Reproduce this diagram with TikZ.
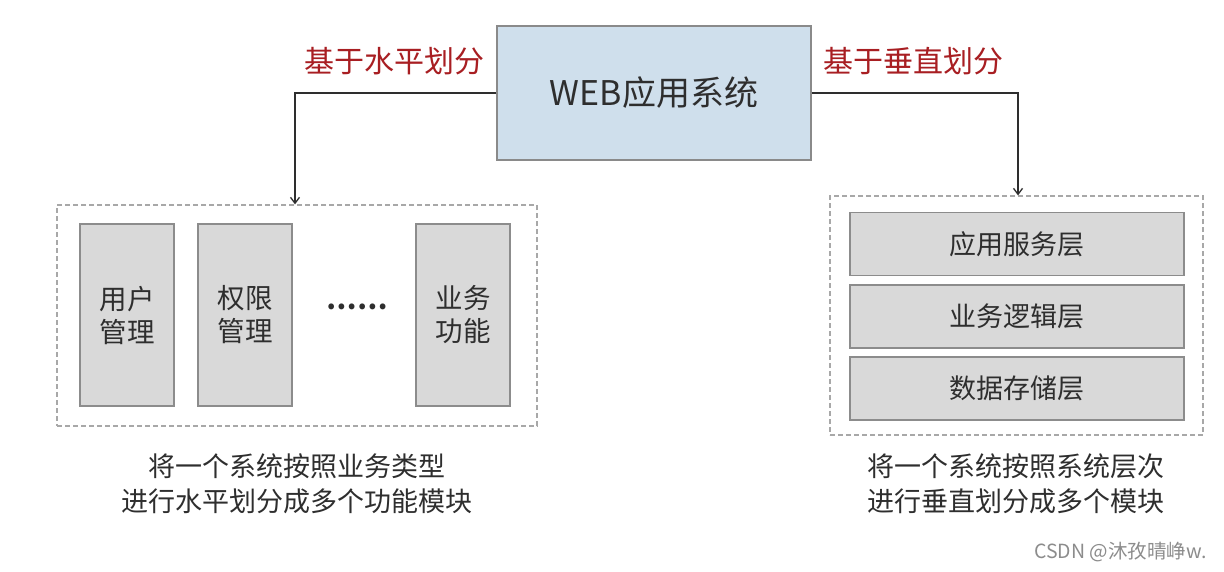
\documentclass[tikz,border=0pt]{standalone}
\usepackage{fontspec}
\newfontfamily\cjk{Noto Sans CJK SC}
\usetikzlibrary{arrows.meta}
\definecolor{webfill}{HTML}{CFDFEC}
\definecolor{webline}{HTML}{8A8A8A}
\definecolor{boxfill}{HTML}{D9D9D9}
\definecolor{boxline}{HTML}{8C8C8C}
\definecolor{dashline}{HTML}{A8A8A8}
\definecolor{txt}{HTML}{2E2E2E}
\definecolor{lblred}{HTML}{A81E22}
\tikzset{
  px/.style={x=1pt,y=-1pt},
  webbox/.style={draw=webline,fill=webfill,line width=1.2pt,minimum width=314pt,minimum height=134pt,inner sep=0pt,text=txt,font=\cjk\fontsize{34}{38}\selectfont},
  vbox/.style={draw=boxline,fill=boxfill,line width=1.2pt,minimum width=94pt,minimum height=182pt,inner sep=0pt,text=txt,align=center,font=\cjk\fontsize{27.5}{33}\selectfont},
  hbox/.style={draw=boxline,fill=boxfill,line width=1.2pt,minimum width=334pt,minimum height=63pt,inner sep=0pt,text=txt,font=\cjk\fontsize{27}{30}\selectfont},
  group/.style={draw=dashline,dash pattern=on 5pt off 3pt,line width=1.2pt,inner sep=0pt},
  redlbl/.style={text=lblred,font=\cjk\fontsize{30}{34}\selectfont},
  caption/.style={text=txt,align=center,font=\cjk\fontsize{27}{35}\selectfont},
  conn/.style={draw=txt,line width=1.3pt,-{Straight Barb[length=6pt,width=9pt]}},
}
\begin{document}
\begin{tikzpicture}[px]
\useasboundingbox[fill=white] (0,0) rectangle (1224,571);
\node[webbox] (web) at (654,93) {WEB应用系统};
\node[redlbl] (lh) at (394,61) {基于水平划分};
\node[redlbl] (lv) at (913,61) {基于垂直划分};

\node[group,minimum width=480pt,minimum height=221pt] (lg) at (297,315.5) {};
\node[group,minimum width=373pt,minimum height=239pt] (rg) at (1016.5,315.5) {};

\node[vbox] (u1) at (127,315) {用户\\管理};
\node[vbox] (u2) at (245,315) {权限\\管理};
\node[text=txt,font=\cjk\bfseries\fontsize{27}{30}\selectfont] (dots) at (357,307) {……};
\node[vbox] (u3) at (463,315) {业务\\功能};

\node[hbox] (r1) at (1017,244) {应用服务层};
\node[hbox] (r2) at (1017,316.5) {业务逻辑层};
\node[hbox] (r3) at (1017,388.5) {数据存储层};

\coordinate (lc) at (295,93);
\coordinate (rc) at (1018,93);
\draw[conn] (web.west) -- (lc) -- (lc |- lg.north);
\draw[conn] (web.east) -- (rc) -- (rc |- rg.north);

\node[caption] (cl) at (297,484) {将一个系统按照业务类型\\进行水平划分成多个功能模块};
\node[caption] (cr) at (1016,484) {将一个系统按照系统层次\\进行垂直划分成多个模块};

\node[text=black!45,font=\cjk\fontsize{19.5}{22}\selectfont,anchor=east] (wm) at (1210,552) {CSDN @沐孜晴峥w.};
\end{tikzpicture}
\end{document}
